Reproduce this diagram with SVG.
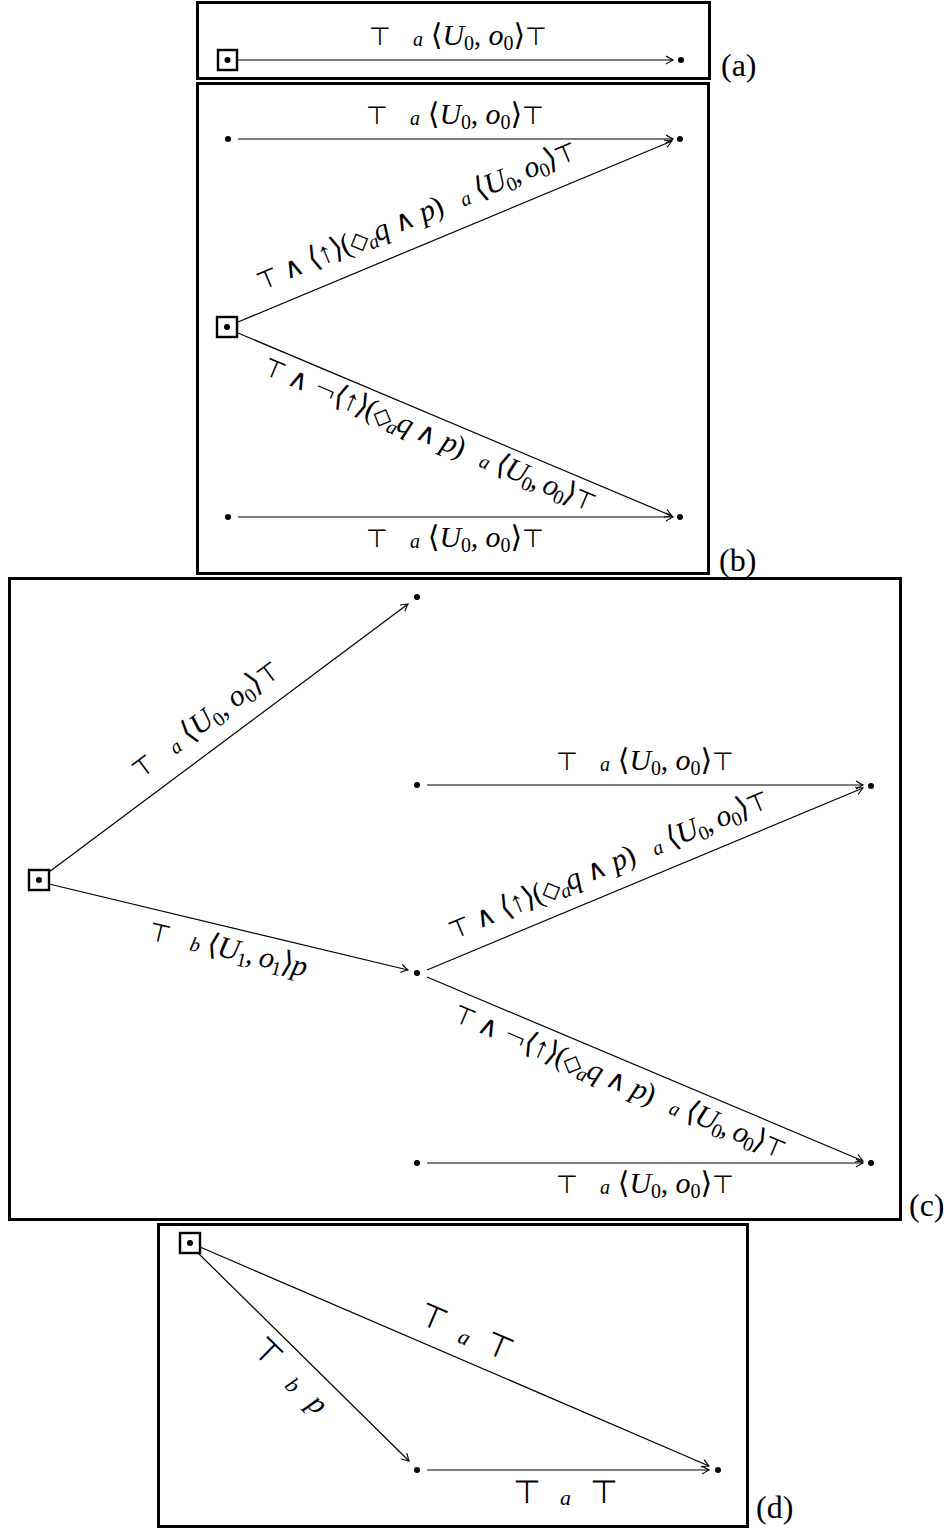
<svg xmlns="http://www.w3.org/2000/svg" width="951" height="1530" viewBox="0 0 951 1530">
<style>
.fr{fill:none;stroke:#000;stroke-width:3}
.e{fill:none;stroke:#000;stroke-width:1.2;marker-end:url(#ar)}
.dot{fill:#000}
.rb{fill:#fff;stroke:#000;stroke-width:2.4}
.t{font-family:'Liberation Serif','DejaVu Sans',serif;font-size:30px;fill:#000}
.td{font-size:30px}
.i{font-style:italic}
.s{font-size:20px}
.sd{font-size:22px}
.T{font-family:'DejaVu Sans',sans-serif;font-size:25px;font-weight:200}
.W{font-family:'DejaVu Sans',sans-serif;font-size:28px;font-weight:200}
.Td{font-family:'DejaVu Sans',sans-serif;font-size:32px;font-weight:200}
.pl{font-family:'Liberation Serif',serif;font-size:32px;fill:#000}
</style>
<defs>
<marker id="ar" viewBox="-10 -6 12 12" refX="0" refY="0" markerWidth="12" markerHeight="12" markerUnits="userSpaceOnUse" orient="auto">
<path d="M-7,-4 Q-2,-1 0,0 Q-2,1 -7,4" fill="none" stroke="#000" stroke-width="1.1"/>
</marker>
</defs>
<rect class="fr" x="197.5" y="2.5" width="512" height="76"/>
<rect class="fr" x="197.5" y="83.5" width="511" height="490"/>
<rect class="fr" x="9.5" y="578.5" width="891" height="641"/>
<rect class="fr" x="158.5" y="1224.5" width="589" height="302"/>
<text class="pl" x="721" y="76">(a)</text>
<text class="pl" x="719" y="571">(b)</text>
<text class="pl" x="909" y="1216">(c)</text>
<text class="pl" x="756" y="1518">(d)</text>
<g id="connectors">
<line class="e" x1="238" y1="60" x2="673" y2="60"/>
<line class="e" x1="238" y1="139" x2="673" y2="139"/>
<line class="e" x1="238" y1="322" x2="672" y2="141"/>
<line class="e" x1="238" y1="333" x2="672" y2="516"/>
<line class="e" x1="238" y1="517" x2="673" y2="517"/>
<line class="e" x1="49" y1="872" x2="408" y2="604"/>
<line class="e" x1="49" y1="884" x2="408" y2="970"/>
<line class="e" x1="427" y1="785" x2="863" y2="785"/>
<line class="e" x1="427" y1="970" x2="863" y2="788"/>
<line class="e" x1="427" y1="977" x2="863" y2="1161"/>
<line class="e" x1="427" y1="1163" x2="863" y2="1163"/>
<line class="e" x1="200" y1="1247" x2="709" y2="1466"/>
<line class="e" x1="197" y1="1252" x2="409" y2="1461"/>
<line class="e" x1="427" y1="1470" x2="709" y2="1470"/>
</g>
<g id="labels">
<text class="t" x="458" y="45" text-anchor="middle" textLength="178"><tspan class="T">⊤</tspan><tspan class="i s" dx="22" dy="1">a</tspan><tspan dx="8" dy="-1">⟨</tspan><tspan class="i">U</tspan><tspan class="s" dy="5">0</tspan><tspan dy="-5">, </tspan><tspan class="i">o</tspan><tspan class="s" dy="5">0</tspan><tspan dy="-5">⟩</tspan><tspan class="T">⊤</tspan></text>
<text class="t" x="455" y="124" text-anchor="middle" textLength="178"><tspan class="T">⊤</tspan><tspan class="i s" dx="22" dy="1">a</tspan><tspan dx="8" dy="-1">⟨</tspan><tspan class="i">U</tspan><tspan class="s" dy="5">0</tspan><tspan dy="-5">, </tspan><tspan class="i">o</tspan><tspan class="s" dy="5">0</tspan><tspan dy="-5">⟩</tspan><tspan class="T">⊤</tspan></text>
<text class="t" transform="translate(420,224) rotate(-22.7)" text-anchor="middle" textLength="345"><tspan class="T">⊤ </tspan><tspan class="W">∧ </tspan>⟨↑⟩(<tspan class="T">◇</tspan><tspan class="i s" dy="5">a</tspan><tspan class="i" dy="-5">q</tspan><tspan class="W"> ∧ </tspan><tspan class="i">p</tspan>)<tspan class="i s" dx="20" dy="1">a</tspan><tspan dx="8" dy="-1">⟨</tspan><tspan class="i">U</tspan><tspan class="s" dy="5">0</tspan><tspan dy="-5">, </tspan><tspan class="i">o</tspan><tspan class="s" dy="5">0</tspan><tspan dy="-5">⟩</tspan><tspan class="T">⊤</tspan></text>
<text class="t" transform="translate(426,443) rotate(22.9)" text-anchor="middle" textLength="358"><tspan class="T">⊤ </tspan><tspan class="W">∧ ¬</tspan>⟨↑⟩(<tspan class="T">◇</tspan><tspan class="i s" dy="5">a</tspan><tspan class="i" dy="-5">q</tspan><tspan class="W"> ∧ </tspan><tspan class="i">p</tspan>)<tspan class="i s" dx="20" dy="1">a</tspan><tspan dx="8" dy="-1">⟨</tspan><tspan class="i">U</tspan><tspan class="s" dy="5">0</tspan><tspan dy="-5">, </tspan><tspan class="i">o</tspan><tspan class="s" dy="5">0</tspan><tspan dy="-5">⟩</tspan><tspan class="T">⊤</tspan></text>
<text class="t" x="455" y="547" text-anchor="middle" textLength="178"><tspan class="T">⊤</tspan><tspan class="i s" dx="22" dy="1">a</tspan><tspan dx="8" dy="-1">⟨</tspan><tspan class="i">U</tspan><tspan class="s" dy="5">0</tspan><tspan dy="-5">, </tspan><tspan class="i">o</tspan><tspan class="s" dy="5">0</tspan><tspan dy="-5">⟩</tspan><tspan class="T">⊤</tspan></text>
<text class="t" transform="translate(211,727) rotate(-36.9)" text-anchor="middle" textLength="178"><tspan class="T">⊤</tspan><tspan class="i s" dx="22" dy="1">a</tspan><tspan dx="8" dy="-1">⟨</tspan><tspan class="i">U</tspan><tspan class="s" dy="5">0</tspan><tspan dy="-5">, </tspan><tspan class="i">o</tspan><tspan class="s" dy="5">0</tspan><tspan dy="-5">⟩</tspan><tspan class="T">⊤</tspan></text>
<text class="t" transform="translate(226,958) rotate(13.5)" text-anchor="middle" textLength="162"><tspan class="T">⊤</tspan><tspan class="i s" dx="22" dy="1">b</tspan><tspan dx="8" dy="-1">⟨</tspan><tspan class="i">U</tspan><tspan class="s" dy="5">1</tspan><tspan dy="-5">, </tspan><tspan class="i">o</tspan><tspan class="s" dy="5">1</tspan><tspan dy="-5">⟩</tspan><tspan class="i">p</tspan></text>
<text class="t" x="645" y="770" text-anchor="middle" textLength="178"><tspan class="T">⊤</tspan><tspan class="i s" dx="22" dy="1">a</tspan><tspan dx="8" dy="-1">⟨</tspan><tspan class="i">U</tspan><tspan class="s" dy="5">0</tspan><tspan dy="-5">, </tspan><tspan class="i">o</tspan><tspan class="s" dy="5">0</tspan><tspan dy="-5">⟩</tspan><tspan class="T">⊤</tspan></text>
<text class="t" transform="translate(612,873) rotate(-22.7)" text-anchor="middle" textLength="345"><tspan class="T">⊤ </tspan><tspan class="W">∧ </tspan>⟨↑⟩(<tspan class="T">◇</tspan><tspan class="i s" dy="5">a</tspan><tspan class="i" dy="-5">q</tspan><tspan class="W"> ∧ </tspan><tspan class="i">p</tspan>)<tspan class="i s" dx="20" dy="1">a</tspan><tspan dx="8" dy="-1">⟨</tspan><tspan class="i">U</tspan><tspan class="s" dy="5">0</tspan><tspan dy="-5">, </tspan><tspan class="i">o</tspan><tspan class="s" dy="5">0</tspan><tspan dy="-5">⟩</tspan><tspan class="T">⊤</tspan></text>
<text class="t" transform="translate(616,1090) rotate(22.9)" text-anchor="middle" textLength="358"><tspan class="T">⊤ </tspan><tspan class="W">∧ ¬</tspan>⟨↑⟩(<tspan class="T">◇</tspan><tspan class="i s" dy="5">a</tspan><tspan class="i" dy="-5">q</tspan><tspan class="W"> ∧ </tspan><tspan class="i">p</tspan>)<tspan class="i s" dx="20" dy="1">a</tspan><tspan dx="8" dy="-1">⟨</tspan><tspan class="i">U</tspan><tspan class="s" dy="5">0</tspan><tspan dy="-5">, </tspan><tspan class="i">o</tspan><tspan class="s" dy="5">0</tspan><tspan dy="-5">⟩</tspan><tspan class="T">⊤</tspan></text>
<text class="t" x="645" y="1193" text-anchor="middle" textLength="178"><tspan class="T">⊤</tspan><tspan class="i s" dx="22" dy="1">a</tspan><tspan dx="8" dy="-1">⟨</tspan><tspan class="i">U</tspan><tspan class="s" dy="5">0</tspan><tspan dy="-5">, </tspan><tspan class="i">o</tspan><tspan class="s" dy="5">0</tspan><tspan dy="-5">⟩</tspan><tspan class="T">⊤</tspan></text>
<text class="t td" transform="translate(462,1342) rotate(23.2)" text-anchor="middle" textLength="100"><tspan class="Td">⊤</tspan><tspan class="i sd" dx="24" dy="2">a</tspan><tspan class="Td" dx="23" dy="-2">⊤</tspan></text>
<text class="t td" transform="translate(283,1383) rotate(44.6)" text-anchor="middle"><tspan class="Td">⊤</tspan><tspan class="i sd" dx="22" dy="2">b</tspan><tspan class="i" dx="18" dy="-2">p</tspan></text>
<text class="t td" x="565" y="1503" text-anchor="middle" textLength="105"><tspan class="Td">⊤</tspan><tspan class="i sd" dx="24" dy="2">a</tspan><tspan class="Td" dx="23" dy="-2">⊤</tspan></text>
</g>
<g id="a_root"><rect class="rb" x="218" y="50" width="19" height="20"/><circle class="dot" cx="227.5" cy="60" r="3"/></g>
<g id="a_n1"><circle class="dot" cx="681" cy="60" r="3"/></g>
<g id="b_tl"><circle class="dot" cx="228" cy="139" r="3"/></g>
<g id="b_tr"><circle class="dot" cx="680" cy="139" r="3"/></g>
<g id="b_root"><rect class="rb" x="217" y="317" width="20" height="20"/><circle class="dot" cx="227" cy="327" r="3"/></g>
<g id="b_bl"><circle class="dot" cx="228" cy="517" r="3"/></g>
<g id="b_br"><circle class="dot" cx="680" cy="517" r="3"/></g>
<g id="c_root"><rect class="rb" x="29" y="870" width="20" height="20"/><circle class="dot" cx="39" cy="880" r="3"/></g>
<g id="c_top"><circle class="dot" cx="417" cy="597" r="3"/></g>
<g id="c_ml"><circle class="dot" cx="417" cy="785" r="3"/></g>
<g id="c_mr"><circle class="dot" cx="871" cy="786" r="3"/></g>
<g id="c_mid"><circle class="dot" cx="417" cy="973" r="3"/></g>
<g id="c_bl"><circle class="dot" cx="417" cy="1163" r="3"/></g>
<g id="c_br"><circle class="dot" cx="871" cy="1163" r="3"/></g>
<g id="d_root"><rect class="rb" x="180" y="1233" width="20" height="20"/><circle class="dot" cx="190" cy="1243" r="3"/></g>
<g id="d_bl"><circle class="dot" cx="417" cy="1470" r="3"/></g>
<g id="d_br"><circle class="dot" cx="718" cy="1470" r="3"/></g>
</svg>
